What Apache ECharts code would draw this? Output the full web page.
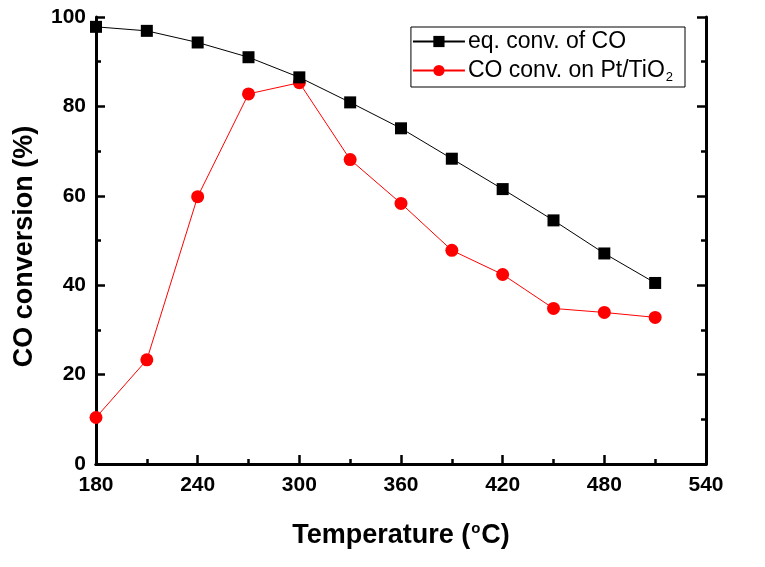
<!DOCTYPE html>
<html><head><meta charset="utf-8">
<script src="https://cdn.jsdelivr.net/npm/echarts@6/dist/echarts.min.js"></script>
<style>html,body{margin:0;padding:0;background:#fff}#c{width:765px;height:567px}</style>
</head><body><div id="c"></div>
<script>
const temps = [180, 210, 240, 270, 300, 330, 360, 390, 420, 450, 480, 510];
const eqConv = [97.8, 96.9, 94.3, 91.0, 86.5, 80.9, 75.1, 68.3, 61.5, 54.5, 47.1, 40.5];
const ptConv = [10.4, 23.3, 59.8, 82.8, 85.3, 68.1, 58.3, 47.8, 42.4, 34.8, 33.9, 32.8];
const seriesNames = ['eq. conv. of CO', 'CO conv. on Pt/TiO2'];

const chart = echarts.init(document.getElementById('c'));
const F = 'Arial, "Liberation Sans", sans-serif';
const tickLbl = {fontFamily: F, fontWeight: 'bold', fontSize: 21, color: '#000'};
const tickStyle = {inside: true, length: 9, lineStyle: {width: 2.5, color: '#000'}};
const minorStyle = {show: true, splitNumber: 2, length: 5, lineStyle: {width: 2.5, color: '#000'}};
chart.setOption({
  animation: false,
  grid: {left: 96, right: 59, top: 17, bottom: 103, show: false},
  legend: {
    right: 80, top: 27, orient: 'vertical',
    borderColor: '#000', borderWidth: 1, borderRadius: 0,
    padding: [3, 12, 3, 1], itemGap: 6,
    itemWidth: 52, itemHeight: 14,
    data: seriesNames,
    formatter: n => n === seriesNames[1] ? 'CO conv. on Pt/TiO{sub|2}' : n,
    textStyle: {fontFamily: F, fontSize: 23, color: '#000', padding: [0, 0, 0, -2],
      rich: {sub: {fontFamily: F, fontSize: 13, color: '#000', verticalAlign: 'bottom', padding: [14, 0, 0, 1]}}}
  },
  xAxis: [{
    type: 'value', min: 180, max: 540, interval: 60,
    axisLine: {lineStyle: {color: '#000', width: 3}},
    axisTick: tickStyle,
    minorTick: minorStyle,
    splitLine: {show: false},
    axisLabel: Object.assign({margin: 11}, tickLbl),
    name: '{a|Temperature (}{s|o}{a|C)}', nameLocation: 'middle', nameGap: 57,
    nameTextStyle: {rich: {
      a: {fontFamily: F, fontWeight: 'bold', fontSize: 27, color: '#000'},
      s: {fontFamily: F, fontWeight: 'bold', fontSize: 15, color: '#000', verticalAlign: 'top', padding: [0, 1, 14, 1]}
    }}
  }, {
    type: 'value', position: 'top', min: 180, max: 540, interval: 60,
    axisLine: {show: true, lineStyle: {color: '#000', width: 3}},
    axisTick: {show: false}, axisLabel: {show: false}, splitLine: {show: false}
  }],
  yAxis: [{
    type: 'value', min: 0, max: 100, interval: 20,
    axisLine: {show: true, lineStyle: {color: '#000', width: 3}},
    axisTick: tickStyle,
    minorTick: minorStyle,
    splitLine: {show: false},
    axisLabel: Object.assign({margin: 10}, tickLbl),
    name: 'CO conversion (%)', nameLocation: 'middle', nameGap: 58,
    nameTextStyle: {fontFamily: F, fontWeight: 'bold', fontSize: 27, color: '#000', padding: [0, 12, 0, 0]}
  }, {
    type: 'value', position: 'right', min: 0, max: 100, interval: 20,
    axisLine: {show: true, lineStyle: {color: '#000', width: 3}},
    axisTick: tickStyle,
    minorTick: minorStyle,
    axisLabel: {show: false}, splitLine: {show: false}
  }],
  series: [{
    name: seriesNames[0], type: 'line', data: temps.map((t, i) => [t, eqConv[i]]),
    symbol: 'rect', symbolSize: 12, showSymbol: true,
    lineStyle: {color: '#000', width: 1}, itemStyle: {color: '#000'}, clip: false, z: 3
  }, {
    name: seriesNames[1], type: 'line', data: temps.map((t, i) => [t, ptConv[i]]),
    symbol: 'circle', symbolSize: 13, showSymbol: true,
    lineStyle: {color: '#ff0000', width: 1}, itemStyle: {color: '#ff0000'}, clip: false, z: 2
  }]
});
</script></body></html>
